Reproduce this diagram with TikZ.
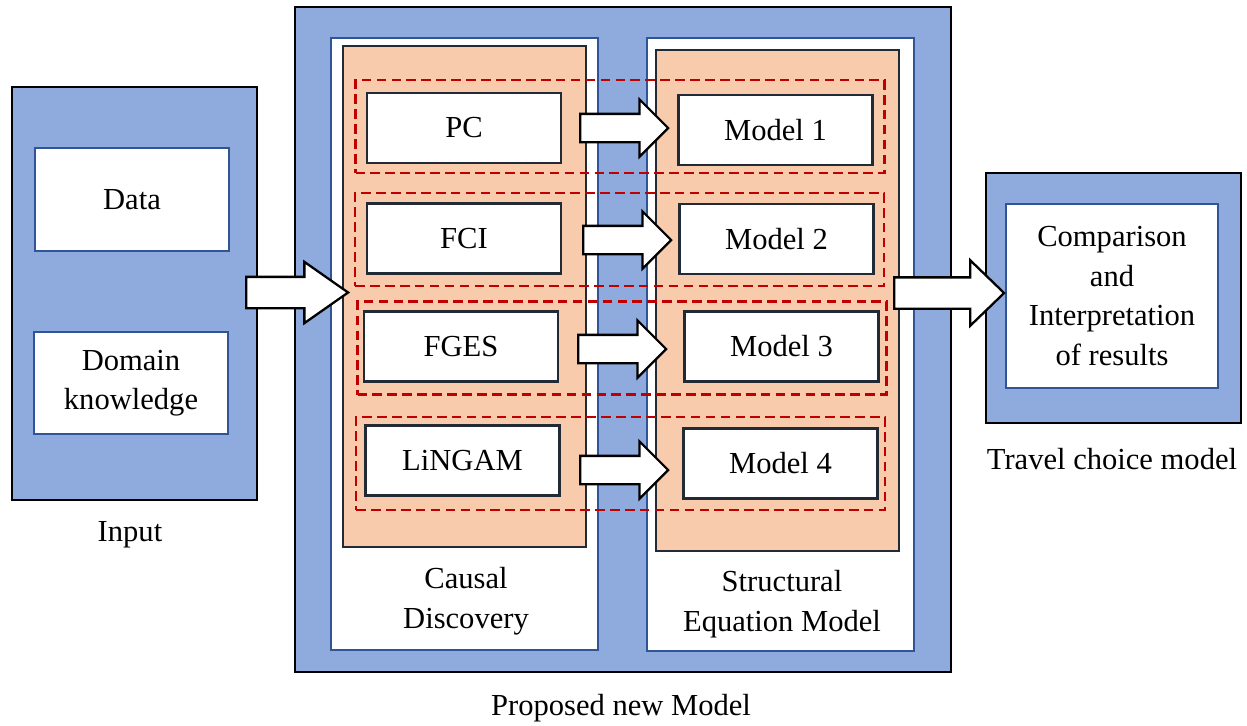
\documentclass[tikz,border=0pt]{standalone}
\usepackage{fontspec}
\setmainfont{Liberation Serif}
\usepackage{tikz}
\usetikzlibrary{shapes.arrows}
\definecolor{boxblue}{HTML}{8FAADC}
\definecolor{lineblue}{HTML}{2F5597}
\definecolor{peach}{HTML}{F8CBAD}
\definecolor{darkline}{HTML}{222A35}
\definecolor{dashred}{HTML}{C00000}
\tikzset{
	panel/.style={draw=black, line width=1.3pt, fill=boxblue},
	inbox/.style={draw=lineblue, line width=1.1pt, fill=white, align=center},
	groupbox/.style={draw=darkline, line width=1.2pt, fill=peach, minimum width=4.86cm, minimum height=10.02cm},
	algo/.style={draw=darkline, line width=1.4pt, fill=white, minimum width=3.88cm, minimum height=1.4cm},
	pairbox/.style={draw=dashred, line width=1.5pt, dash pattern=on 5.5pt off 3pt, minimum width=10.58cm, minimum height=1.86cm},
	fatarrow/.style={single arrow, draw=black, line width=1.3pt, fill=white, anchor=tail, minimum width=0pt},
	caption/.style={align=center}
}

\begin{document}
\begin{tikzpicture}[x=0.02cm, y=-0.02cm, font=\fontsize{17.4}{22.5}\selectfont]
	\useasboundingbox (0, 0) rectangle (1247, 725);
	% input
	\node [panel, minimum width=4.9cm, minimum height=8.26cm] (In) at (134.5, 293.5) {};
	\node [inbox, minimum width=3.88cm, minimum height=2.06cm] (Data) at (132, 199.5) {Data};
	\node [inbox, minimum width=3.88cm, minimum height=2.04cm] (Dom) at (131, 383) {Domain\\knowledge};
	\node (InL) at (130, 535) {Input};
	% proposed model
	\node [panel, minimum width=13.12cm, minimum height=13.3cm] (Prop) at (623, 339.5) {};
	\node [inbox, minimum width=5.34cm, minimum height=12.24cm] (CD) at (464.5, 344) {};
	\node [inbox, minimum width=5.34cm, minimum height=12.26cm] (SEM) at (780.5, 344.5) {};
	\node [groupbox] (G1) at (464.5, 296.5) {};
	\node [groupbox] (G2) at (777.5, 300.5) {};
	\node [pairbox] (R1) at (620, 126.5) {};
	\node [pairbox] (R2) at (619.5, 239.5) {};
	\node [pairbox] (R3) at (622, 348) {};
	\node [pairbox] (R4) at (620.5, 463.5) {};
	\node [algo] (PC) at (464, 128) {PC};
	\node [algo] (FCI) at (464, 238.5) {FCI};
	\node [algo] (FGES) at (461, 346.5) {FGES};
	\node [algo] (LNG) at (462.5, 460.5) {LiNGAM};
	\node [algo] (M1) at (775.5, 130) {Model 1};
	\node [algo] (M2) at (776.5, 239) {Model 2};
	\node [algo] (M3) at (781.5, 346.5) {Model 3};
	\node [algo] (M4) at (780.5, 463.5) {Model 4};
	\node [caption] (CDL) at (466, 601) {Causal\\Discovery};
	\node [caption] (SEML) at (782, 604) {Structural\\Equation Model};
	\node (PropL) at (621, 708) {Proposed new Model};
	% travel choice model
	\node [panel, minimum width=5.1cm, minimum height=5cm] (TC) at (1113.5, 298) {};
	\node [inbox, minimum width=4.24cm, minimum height=3.68cm] (Res) at (1112, 296) {Comparison\\and\\Interpretation\\of results};
	\node (TCL) at (1112, 459) {Travel choice model};
	% arrows
	\node [fatarrow, inner sep=0.26cm, single arrow head extend=0.29cm, minimum height=1.76cm] (A1) at (579, 128) {};
	\node [fatarrow, inner sep=0.26cm, single arrow head extend=0.29cm, minimum height=1.76cm] (A2) at (582, 240) {};
	\node [fatarrow, inner sep=0.26cm, single arrow head extend=0.29cm, minimum height=1.76cm] (A3) at (577, 349) {};
	\node [fatarrow, inner sep=0.26cm, single arrow head extend=0.29cm, minimum height=1.76cm] (A4) at (579, 470) {};
	\node [fatarrow, inner sep=0.29cm, single arrow head extend=0.3cm, single arrow tip angle=70, minimum height=2.04cm] (AIn) at (245, 292.5) {};
	\node [fatarrow, inner sep=0.29cm, single arrow head extend=0.34cm, single arrow tip angle=88, minimum height=2.2cm] (AOut) at (893, 293) {};
\end{tikzpicture}
\end{document}
